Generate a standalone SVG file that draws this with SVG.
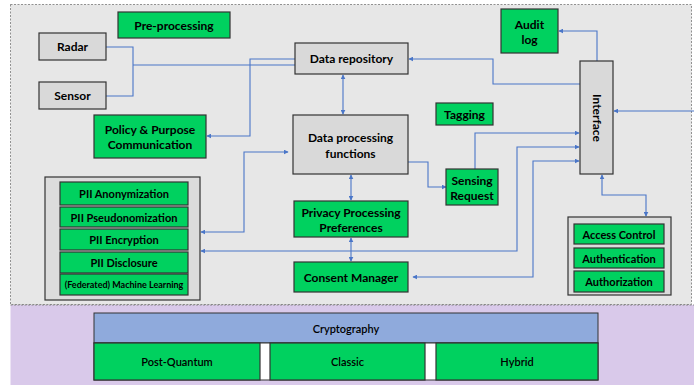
<svg xmlns="http://www.w3.org/2000/svg" width="694" height="385" viewBox="0 0 694 385">
<defs>
<style>
text{font-family:Lato,"Liberation Sans",sans-serif;font-weight:bold;fill:#000;text-anchor:middle;dominant-baseline:central}
.g{fill:#00d15f;stroke:#333;stroke-width:1.2}
.gr{fill:#d9d9d9;stroke:#333;stroke-width:1.2}
.c{fill:#dcdcdc;stroke:#333;stroke-width:1.2}
.l{fill:none;stroke:#4a76c8;stroke-width:1.1}
.t12{font-size:12px}
.t11{font-size:11px}
.t9{font-size:9px}
</style>
<marker id="a" viewBox="0 0 8 8" refX="7" refY="4" markerWidth="5" markerHeight="5" markerUnits="userSpaceOnUse" orient="auto-start-reverse">
<path d="M0,0 L8,4 L0,8 z" fill="#4a76c8"/>
</marker>
</defs>
<rect x="0" y="0" width="694" height="385" fill="#fff"/>
<rect x="10.5" y="4.5" width="681" height="300" fill="#e7e7e7" stroke="#777" stroke-width="0.8" stroke-dasharray="2,1.5"/>
<rect x="10.5" y="305" width="684" height="80" fill="#d9c9ea"/>
<line x1="10.5" y1="305" x2="694" y2="305" stroke="#777" stroke-width="0.8" stroke-dasharray="2,1.5"/>

<g id="connectors">
<path class="l" d="M106,47 H133 V96 H106 M133,65 H295"/>
<path class="l" d="M295,59 H250 V136 H207" marker-end="url(#a)"/>
<path class="l" d="M343,75 V114" marker-start="url(#a)" marker-end="url(#a)"/>
<path class="l" d="M201,232 H244 V152 H288" marker-start="url(#a)" marker-end="url(#a)"/>
<path class="l" d="M201,251 H517 V147 H579" marker-start="url(#a)" marker-end="url(#a)"/>
<path class="l" d="M413,277 H533 V161 H579" marker-start="url(#a)" marker-end="url(#a)"/>
<path class="l" d="M475,169 V133 H579" marker-end="url(#a)"/>
<path class="l" d="M408,162 H428 V187 H446" marker-end="url(#a)"/>
<path class="l" d="M351,175 V200" marker-start="url(#a)" marker-end="url(#a)"/>
<path class="l" d="M351,238 V261" marker-start="url(#a)" marker-end="url(#a)"/>
<path class="l" d="M580,84 H493 V59 H409" marker-end="url(#a)"/>
<path class="l" d="M597,61 V31 H559" marker-end="url(#a)"/>
<path class="l" d="M694,111 H614" stroke-width="1.6" marker-end="url(#a)"/>
<path class="l" d="M602,175 V195 H646 V216" marker-start="url(#a)" marker-end="url(#a)"/>
</g>

<g id="preprocessing"><rect class="g" x="118" y="12" width="112" height="26"/><text class="t12" x="174" y="25">Pre-processing</text></g>
<g id="radar"><rect class="gr" x="39" y="33" width="67" height="27"/><text class="t12" x="72.5" y="46.5">Radar</text></g>
<g id="sensor"><rect class="gr" x="39" y="82" width="67" height="27"/><text class="t12" x="72.5" y="95.5">Sensor</text></g>
<g id="policy"><rect class="g" x="94" y="115" width="112" height="43"/><text class="t12" x="150" y="129">Policy &amp; Purpose</text><text class="t12" x="150" y="144.5">Communication</text></g>
<g id="datarepo"><rect class="gr" x="295" y="43" width="113" height="31"/><text class="t12" x="351.5" y="58.5">Data repository</text></g>
<g id="dataproc"><rect class="gr" x="293" y="115" width="115" height="59"/><text class="t12" x="350.5" y="137">Data processing</text><text class="t12" x="350.5" y="153">functions</text></g>
<g id="privacy"><rect class="g" x="294" y="201" width="114" height="36"/><text class="t12" x="351" y="212">Privacy Processing</text><text class="t12" x="351" y="227">Preferences</text></g>
<g id="consent"><rect class="g" x="294" y="262" width="114" height="30"/><text class="t12" x="351" y="277">Consent Manager</text></g>
<g id="tagging"><rect class="g" x="436" y="103" width="57" height="22"/><text class="t12" x="464.5" y="114">Tagging</text></g>
<g id="sensing"><rect class="g" x="446" y="169" width="52" height="36"/><text class="t12" x="472" y="180">Sensing</text><text class="t12" x="472" y="195">Request</text></g>
<g id="audit"><rect class="g" x="501" y="9" width="57" height="44"/><text class="t12" x="529.5" y="24">Audit</text><text class="t12" x="529.5" y="39">log</text></g>
<g id="interface"><rect class="gr" x="580" y="61" width="33" height="113"/><text class="t12" transform="translate(597,118) rotate(90)">Interface</text></g>

<g id="pii">
<rect class="c" x="45" y="177" width="155" height="123"/>
<rect class="g" x="60" y="182" width="128" height="23"/><text class="t11" x="124" y="193.5">PII Anonymization</text>
<rect class="g" x="60" y="207" width="128" height="20"/><text class="t11" x="124" y="217">PII Pseudonomization</text>
<rect class="g" x="60" y="229" width="128" height="21"/><text class="t11" x="124" y="239.5">PII Encryption</text>
<rect class="g" x="60" y="252" width="128" height="21"/><text class="t11" x="124" y="262.5">PII Disclosure</text>
<rect class="g" x="60" y="274" width="128" height="21"/><text class="t9" x="124" y="284.5">(Federated) Machine Learning</text>
</g>

<g id="access">
<rect class="c" x="568" y="217" width="103" height="78"/>
<rect class="g" x="574" y="224" width="90" height="20"/><text class="t11" x="619" y="234">Access Control</text>
<rect class="g" x="574" y="248" width="90" height="20"/><text class="t11" x="619" y="258">Authentication</text>
<rect class="g" x="574" y="271" width="90" height="21"/><text class="t11" x="619" y="281.5">Authorization</text>
</g>

<g id="crypto">
<rect x="94" y="313" width="504" height="30" fill="#8faadc" stroke="#333" stroke-width="1"/>
<text class="t11" x="346" y="328" style="font-weight:600">Cryptography</text>
<rect x="94" y="343" width="504" height="37" fill="#fff" stroke="#333" stroke-width="1"/>
<rect class="g" x="94" y="343" width="166" height="37"/><text class="t11" x="177" y="361.5" style="font-weight:600">Post-Quantum</text>
<rect class="g" x="270" y="343" width="155" height="37"/><text class="t11" x="347.5" y="361.5" style="font-weight:600">Classic</text>
<rect class="g" x="436" y="343" width="162" height="37"/><text class="t11" x="517" y="361.5" style="font-weight:600">Hybrid</text>
</g>
</svg>
